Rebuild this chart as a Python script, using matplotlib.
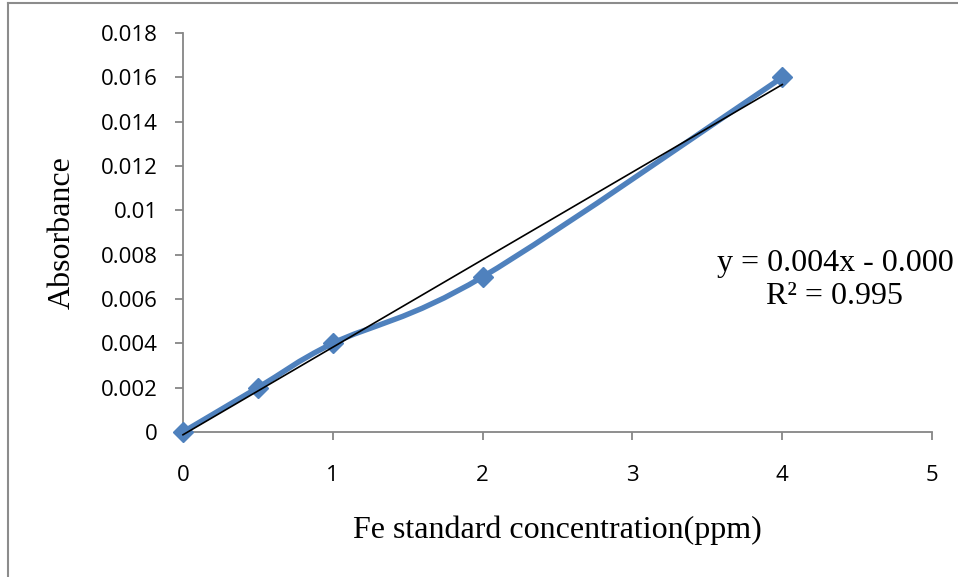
import matplotlib
matplotlib.use("Agg")
import matplotlib.pyplot as plt
from matplotlib.path import Path
import matplotlib.patches as pat
from matplotlib.lines import Line2D
import numpy as np

# standard points
conc = [0, 0.5, 1, 2, 4]
absorb = [0, 0.002, 0.004, 0.007, 0.016]

x_ticks = [0, 1, 2, 3, 4, 5]
y_ticks = [0, 0.002, 0.004, 0.006, 0.008, 0.01, 0.012, 0.014, 0.016, 0.018]
y_labels = ["0", "0.002", "0.004", "0.006", "0.008", "0.01", "0.012", "0.014", "0.016", "0.018"]

eq_text = "y = 0.004x - 0.000\nR² = 0.995"

blue = "#4F81BD"
grey = "#868686"


def smooth_path(xs, ys):
    # excel style smoothing: bezier with catmull-rom control points
    pts = np.column_stack([xs, ys]).astype(float)
    n = len(pts)
    verts = [pts[0]]
    codes = [Path.MOVETO]
    for i in range(n - 1):
        p0 = pts[i - 1] if i > 0 else pts[i]
        p1 = pts[i]
        p2 = pts[i + 1]
        p3 = pts[i + 2] if i + 2 < n else pts[i + 1]
        c1 = p1 + (p2 - p0) / 6.0
        c2 = p2 - (p3 - p1) / 6.0
        verts += [c1, c2, p2]
        codes += [Path.CURVE4] * 3
    return Path(verts, codes)


fig = plt.figure(figsize=(9.58, 5.77), dpi=100)
ax = fig.add_axes([0.191, 0.2513, 0.782, 0.6915])

# outer chart border (left + top visible)
fig.add_artist(Line2D([8 / 958, 8 / 958], [0, 1 - 3 / 577], transform=fig.transFigure, color="#8c8c8c", lw=1.5))
fig.add_artist(Line2D([8 / 958, 1], [1 - 3 / 577, 1 - 3 / 577], transform=fig.transFigure, color="#8c8c8c", lw=1.5))

# smoothed series line
curve = pat.PathPatch(smooth_path(conc, absorb), facecolor="none", edgecolor=blue, lw=3.9,
                      capstyle="round", joinstyle="round", zorder=3, clip_on=False)
ax.add_patch(curve)
ax.plot(conc, absorb, linestyle="none", marker="D", markersize=10.5, color=blue, zorder=4, clip_on=False)

# linear trendline
k, b = np.polyfit(conc, absorb, 1)
xl = np.array([min(conc), max(conc)])
ax.plot(xl, k * xl + b, color="black", lw=1.2, zorder=5, clip_on=False)

ax.set_xlim(0, 5)
ax.set_ylim(0, 0.018)
ax.set_xticks(x_ticks)
ax.set_yticks(y_ticks)
ax.set_yticklabels(y_labels)

for s in ["top", "right"]:
    ax.spines[s].set_visible(False)
for s in ["left", "bottom"]:
    ax.spines[s].set_color(grey)
    ax.spines[s].set_linewidth(1.3)

ax.tick_params(direction="out", length=6, width=1.3, color=grey, labelsize=16)
ax.tick_params(axis="y", pad=12)
ax.tick_params(axis="x", pad=18)
for lab in ax.get_xticklabels() + ax.get_yticklabels():
    lab.set_fontfamily("Open Sans")

ax.set_xlabel("Fe standard concentration(ppm)", fontfamily="Liberation Serif", fontsize=23, va="center")
ax.xaxis.set_label_coords(0.4993, -0.2456)
ax.set_ylabel("Absorbance", fontfamily="Liberation Serif", fontsize=23, va="center")
ax.yaxis.set_label_coords(-0.1615, 0.499)

fig.text(0.8716, 0.5147, eq_text, ha="center", va="center",
         fontfamily="Liberation Serif", fontsize=23, linespacing=1.2)

fig.savefig("out.png", dpi=100)
